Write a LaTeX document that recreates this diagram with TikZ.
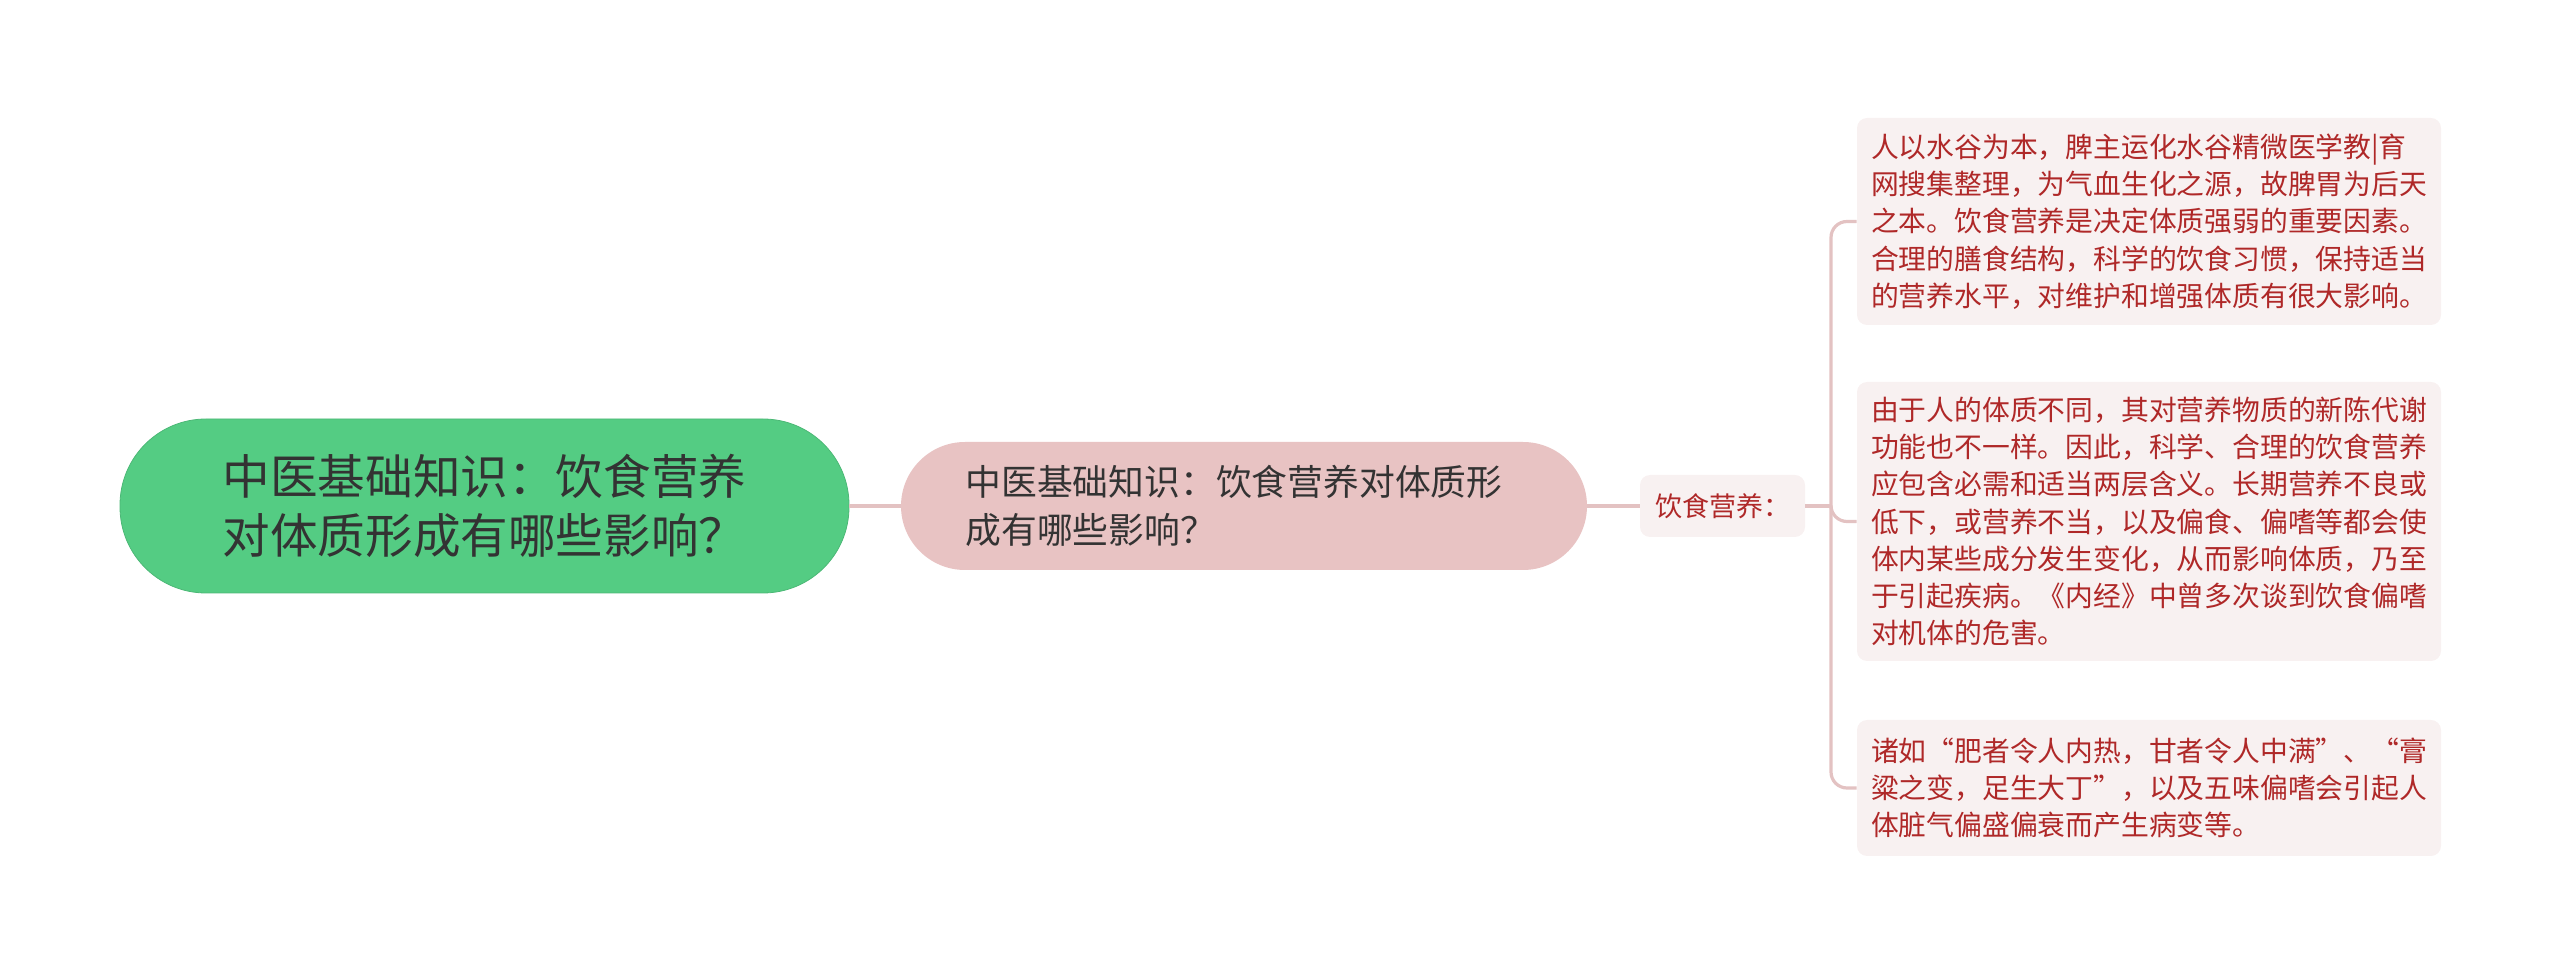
\documentclass[tikz,border=0pt]{standalone}
\usepackage{fontspec}
\newfontfamily\cjk{Noto Sans CJK SC}
\definecolor{rootfill}{HTML}{54CC83}
\definecolor{subfill}{HTML}{E8C3C3}
\definecolor{leaffill}{HTML}{F8F1F1}
\definecolor{linec}{HTML}{E3C2C2}
\definecolor{darktext}{HTML}{333333}
\definecolor{redtext}{HTML}{AF2828}
\begin{document}
\begin{tikzpicture}[x=0.5pt,y=-0.5pt,
  conn/.style={draw=linec,line width=1.6pt},
  rootbox/.style={fill=rootfill,draw=rootfill!90!black,line width=0.4pt,rounded corners=43pt,minimum width=364.5pt,minimum height=87pt,inner sep=0pt,align=left,text=darktext,font=\fontsize{23.8pt}{29.4pt}\selectfont\cjk},
  subbox/.style={fill=subfill,rounded corners=32pt,minimum width=343pt,minimum height=64pt,inner sep=0pt,align=left,text=darktext,font=\fontsize{17.9pt}{23.7pt}\selectfont\cjk},
  labelbox/.style={fill=leaffill,rounded corners=5pt,minimum width=82.5pt,minimum height=31pt,inner sep=0pt,text=redtext,font=\fontsize{13.5pt}{16pt}\selectfont\cjk},
  leafbox/.style={fill=leaffill,rounded corners=5pt,minimum width=292pt,inner sep=0pt,align=left,text=redtext,font=\fontsize{13.9pt}{18.6pt}\selectfont\cjk}
]
\useasboundingbox (0,0) rectangle (2560,977);
\node[rootbox] (root) at (484.5,506) {中医基础知识：饮食营养\\对体质形成有哪些影响？};
\node[subbox] (sub) at (1244,506) {中医基础知识：饮食营养对体质形\hspace*{10pt}\\成有哪些影响？};
\node[labelbox] (lab) at (1722.5,506) {饮食营养：};
\node[leafbox,minimum height=103.5pt] (l1) at (2149,221.5) {人以水谷为本，脾主运化水谷精微医学教|育\\网搜集整理，为气血生化之源，故脾胃为后天\\之本。饮食营养是决定体质强弱的重要因素。\\合理的膳食结构，科学的饮食习惯，保持适当\\的营养水平，对维护和增强体质有很大影响。};
\node[leafbox,minimum height=139.5pt] (l2) at (2149,521.5) {由于人的体质不同，其对营养物质的新陈代谢\\功能也不一样。因此，科学、合理的饮食营养\\应包含必需和适当两层含义。长期营养不良或\\低下，或营养不当，以及偏食、偏嗜等都会使\\体内某些成分发生变化，从而影响体质，乃至\\于引起疾病。《内经》中曾多次谈到饮食偏嗜\\对机体的危害。};
\node[leafbox,minimum height=68pt] (l3) at (2149,788) {诸如“肥者令人内热，甘者令人中满”、“膏\\粱之变，足生大丁”，以及五味偏嗜会引起人\\体脏气偏盛偏衰而产生病变等。};
\coordinate (trunk) at (1831,506);
\draw[conn] (root.east) -- (sub.west);
\draw[conn] (sub.east) -- (lab.west);
\draw[conn] (lab.east) -- (trunk);
\draw[conn,rounded corners=8pt] (trunk) |- (l1.west);
\draw[conn,rounded corners=8pt] (trunk) |- (l2.west);
\draw[conn,rounded corners=8pt] (trunk) |- (l3.west);
\end{tikzpicture}
\end{document}
